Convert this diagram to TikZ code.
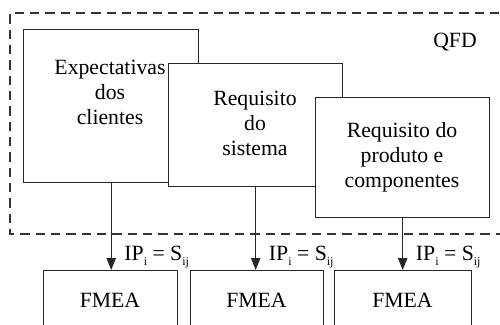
\documentclass[tikz,border=0pt]{standalone}
\usepackage{fontspec}
\setmainfont{Liberation Serif}
\usetikzlibrary{arrows.meta,calc}
\begin{document}
\begin{tikzpicture}[x=0.75pt,y=-0.75pt,
  every node/.style={font=\fontsize{16.3}{18.75}\selectfont},
  qbox/.style={draw=black!85,line width=1.05pt,fill=white,inner sep=0pt,anchor=north west},
  txt/.style={align=center,inner sep=0pt},
  conn/.style={draw=black!85,line width=1.05pt,-{Triangle[length=9pt,width=7pt]}},
  qfdline/.style={draw=black!80,line width=1pt,dash pattern=on 7pt off 4.5pt}]
\useasboundingbox (0,0) rectangle (500,325);
\clip (0,0) rectangle (500,325);
% dashed QFD frame
\draw[qfdline] (530,13) -- (10,13) -- (10,234) -- (530,234);
\node[txt] (qfd) at (455,42) {QFD};
% boxes
\node[qbox,minimum width=175*0.75pt,minimum height=153*0.75pt] (b1) at (23,29) {};
\node[txt] (t1) at (110,92) {Expectativas\\dos\\clientes};
\node[qbox,minimum width=174*0.75pt,minimum height=123*0.75pt] (b2) at (168,63) {};
\node[txt] (t2) at (255,123) {Requisito\\do\\sistema};
\node[qbox,minimum width=174*0.75pt,minimum height=120*0.75pt] (b3) at (315,97) {};
\node[txt] (t3) at (402,157) {Requisito do\\produto e\\componentes};
% FMEA boxes
\node[qbox,minimum width=134*0.75pt,minimum height=80*0.75pt] (f1) at (43,270) {};
\node[txt] (ft1) at (110,300) {FMEA};
\node[qbox,minimum width=133*0.75pt,minimum height=80*0.75pt] (f2) at (190,270) {};
\node[txt] (ft2) at (256.5,300) {FMEA};
\node[qbox,minimum width=137*0.75pt,minimum height=80*0.75pt] (f3) at (334,270) {};
\node[txt] (ft3) at (402.5,300) {FMEA};
% connectors
\draw[conn] (b1.south) -- (b1.south |- f1.north);
\draw[conn] (b2.south) -- (b2.south |- f2.north);
\draw[conn] (b3.south) -- (b3.south |- f3.north);
% labels
\newcommand{\ipeq}{IP\raisebox{-0.55ex}{\fontsize{9}{9}\selectfont i}\ = S\raisebox{-0.55ex}{\fontsize{9}{9}\selectfont ij}}
\node[anchor=base west,inner sep=0pt] (l1) at ($(b1.south |- f1.north)+(13,-10)$) {\ipeq};
\node[anchor=base west,inner sep=0pt] (l2) at ($(b2.south |- f2.north)+(13,-10)$) {\ipeq};
\node[anchor=base west,inner sep=0pt] (l3) at ($(b3.south |- f3.north)+(13,-10)$) {\ipeq};
\end{tikzpicture}
\end{document}
